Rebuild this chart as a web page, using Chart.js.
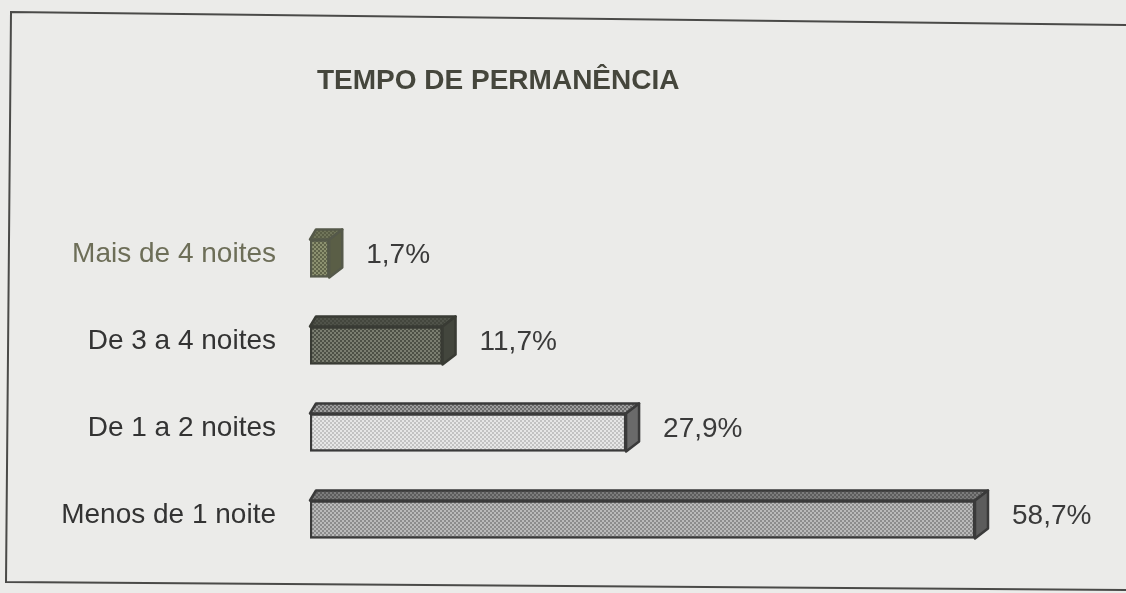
<!DOCTYPE html>
<html>
<head>
<meta charset="utf-8">
<title>Tempo de permanência</title>
<script src="https://cdn.jsdelivr.net/npm/chart.js@4.4.1/dist/chart.umd.min.js"></script>
<style>
  html, body { margin:0; padding:0; background:#ebebe9; }
  #wrap { position:relative; width:1126px; height:593px; }
</style>
</head>
<body>
<div id="wrap"><canvas id="tempo" width="1126" height="593"></canvas></div>
<script>
// dados
var titulo = "TEMPO DE PERMANÊNCIA";
var categorias = ["Mais de 4 noites", "De 3 a 4 noites", "De 1 a 2 noites", "Menos de 1 noite"];
var percentuais = [1.7, 11.7, 27.9, 58.7];

// cores de cada barra: frente (fundo + pontos), topo, lado, contorno
var corFrente = ["#8c9170", "#7b7e71", "#e6e6e6", "#bababa"];
var corPonto  = ["#60644a", "#4d5046", "#c2c2c2", "#8c8c8c"];
var corTopo   = ["#70755a", "#50534a", "#a0a0a0", "#7c7c7c"];
var corLado   = ["#5a5e46", "#43463d", "#6a6a6a", "#5c5c5c"];
var corBorda  = ["#55594a", "#393b34", "#3a3a3a", "#3a3a3a"];
var corRotulo = ["#6d6e58", "#333333", "#333333", "#333333"];

var fonte = "'Liberation Sans', Arial, sans-serif";

// retícula de pontos, como no impresso
function reticula(base, ponto) {
  var c = document.createElement("canvas");
  c.width = 4; c.height = 4;
  var g = c.getContext("2d");
  g.fillStyle = base; g.fillRect(0, 0, 4, 4);
  g.fillStyle = ponto;
  g.fillRect(0, 0, 2, 2);
  g.fillRect(2, 2, 2, 2);
  return g.createPattern(c, "repeat");
}

var padroes = corFrente.map(function(c, i) { return reticula(c, corPonto[i]); });
var padroesTopo = corTopo.map(function(c, i) { return reticula(c, corLado[i]); });

function formata(v) {
  return v.toFixed(1).replace(".", ",") + "%";
}

var caixa3d = {
  id: "caixa3d",
  beforeDraw: function(chart) {
    var ctx = chart.ctx;
    ctx.save();
    ctx.fillStyle = "#ebebe9";
    ctx.fillRect(0, 0, chart.width, chart.height);
    // moldura (levemente torta, como no scan)
    ctx.strokeStyle = "#4a4a48";
    ctx.lineWidth = 2;
    ctx.beginPath();
    ctx.moveTo(1126, 25);
    ctx.lineTo(11, 12);
    ctx.lineTo(6, 582);
    ctx.lineTo(1126, 590);
    ctx.stroke();
    // titulo
    ctx.fillStyle = "#45463c";
    ctx.font = "bold 28px " + fonte;
    ctx.textAlign = "left";
    ctx.textBaseline = "middle";
    ctx.fillText(titulo, 317, 81);
    ctx.restore();
  },
  afterDatasetsDraw: function(chart) {
    var ctx = chart.ctx;
    var meta = chart.getDatasetMeta(0);
    var dxE = 6, dxD = 13, dy = 10;
    meta.data.forEach(function(bar, i) {
      var p = bar.getProps(["x", "y", "base", "height"], true);
      var L = p.base, R = p.x, T = p.y - p.height / 2, B = p.y + p.height / 2;
      ctx.save();
      ctx.lineJoin = "round";
      ctx.lineWidth = 2.5;
      ctx.strokeStyle = corBorda[i];
      // topo
      ctx.beginPath();
      ctx.moveTo(L, T);
      ctx.lineTo(L + dxE, T - dy);
      ctx.lineTo(R + dxD, T - dy);
      ctx.lineTo(R, T);
      ctx.closePath();
      ctx.fillStyle = padroesTopo[i];
      ctx.fill();
      ctx.stroke();
      // lado
      ctx.beginPath();
      ctx.moveTo(R, T);
      ctx.lineTo(R + dxD, T - dy);
      ctx.lineTo(R + dxD, B - dy);
      ctx.lineTo(R, B);
      ctx.closePath();
      ctx.fillStyle = corLado[i];
      ctx.fill();
      ctx.stroke();
      // valor
      ctx.fillStyle = "#3a3a3a";
      ctx.font = "28px " + fonte;
      ctx.textAlign = "left";
      ctx.textBaseline = "middle";
      ctx.fillText(formata(percentuais[i]), R + dxD + 24, p.y - 3);
      ctx.restore();
    });
  }
};

var ctx = document.getElementById("tempo");
var grafico = new Chart(ctx, {
  type: "bar",
  data: {
    labels: categorias,
    datasets: [{
      data: percentuais,
      backgroundColor: padroes,
      borderColor: corBorda,
      borderWidth: 2.5,
      borderSkipped: false,
      barThickness: 38
    }]
  },
  options: {
    indexAxis: "y",
    responsive: false,
    animation: false,
    events: [],
    layout: { padding: { left: 10, right: 23, top: 215, bottom: 30 } },
    plugins: {
      legend: { display: false },
      tooltip: { enabled: false },
      title: { display: false }
    },
    scales: {
      x: { display: false, min: 0, max: 70 },
      y: {
        grid: { display: false, drawTicks: false },
        border: { display: false },
        afterFit: function(scale) {
          scale.width = 300;
          // sem folga extra em cima/embaixo
          scale.paddingTop = 0;
          scale.paddingBottom = 0;
        },
        ticks: {
          padding: 34,
          labelOffset: -4,
          color: function(c) { return corRotulo[c.index]; },
          font: { family: fonte, size: 28 }
        }
      }
    }
  },
  plugins: [caixa3d]
});
</script>
</body>
</html>
